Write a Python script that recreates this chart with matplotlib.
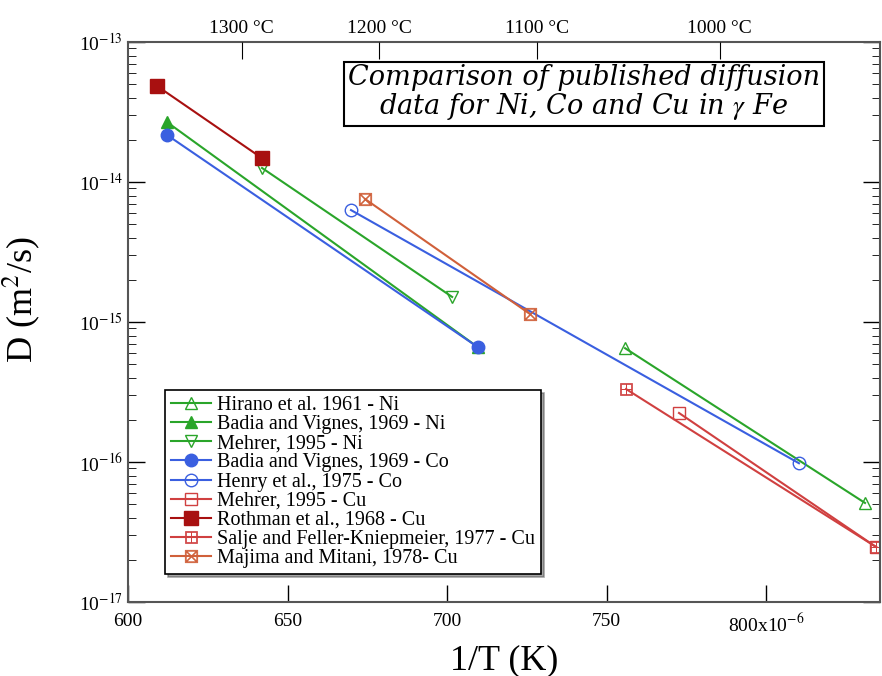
import numpy as np
import matplotlib
matplotlib.use('Agg')
import matplotlib.pyplot as plt

plt.rcParams['font.family'] = ['Liberation Serif', 'DejaVu Serif']
plt.rcParams['mathtext.fontset'] = 'stix'

# 1/T values in units of 1e-6 1/K, D in m^2/s
hirano_ni_x = [755.8, 831.0]
hirano_ni_y = [6.5e-16, 5.1e-17]
badia_ni_x = [612.2, 709.7]
badia_ni_y = [2.68e-14, 6.6e-16]
mehrer_ni_x = [642.0, 701.6]
mehrer_ni_y = [1.26e-14, 1.51e-15]
badia_co_x = [612.2, 709.7]
badia_co_y = [2.17e-14, 6.6e-16]
henry_co_x = [669.9, 810.3]
henry_co_y = [6.3e-15, 9.8e-17]
mehrer_cu_x = [772.7, 834.5]
mehrer_cu_y = [2.24e-16, 2.47e-17]
rothman_cu_x = [609.1, 642.0]
rothman_cu_y = [4.85e-14, 1.48e-14]
salje_cu_x = [756.1, 834.5]
salje_cu_y = [3.32e-16, 2.47e-17]
majima_cu_x = [674.3, 726.0]
majima_cu_y = [7.56e-15, 1.14e-15]

x_ticks = [600, 650, 700, 750, 800]
x_tick_labels = ['600', '650', '700', '750', '800x10$^{-6}$']
celsius_ticks = [1300, 1200, 1100, 1000]

green = '#2aa52a'
blue = '#3a5fe0'
darkred = '#a81010'
red = '#d04040'
orange = '#d0603a'

fig = plt.figure(figsize=(8.82, 6.76), dpi=100)
ax = fig.add_axes([128 / 882, 74 / 676, 752 / 882, 560 / 676])

ax.plot(hirano_ni_x, hirano_ni_y, color=green, marker='^', mfc='none', ms=9,
        lw=1.5, label='Hirano et al. 1961 - Ni')
ax.plot(badia_ni_x, badia_ni_y, color=green, marker='^', ms=9,
        lw=1.5, label='Badia and Vignes, 1969 - Ni')
ax.plot(mehrer_ni_x, mehrer_ni_y, color=green, marker='v', mfc='none', ms=9,
        lw=1.5, label='Mehrer, 1995 - Ni')
ax.plot(badia_co_x, badia_co_y, color=blue, marker='o', ms=9,
        lw=1.5, label='Badia and Vignes, 1969 - Co')
ax.plot(henry_co_x, henry_co_y, color=blue, marker='o', mfc='none', ms=9,
        lw=1.5, label='Henry et al., 1975 - Co')
ax.plot(mehrer_cu_x, mehrer_cu_y, color=red, marker='s', mfc='none', ms=9,
        lw=1.5, label='Mehrer, 1995 - Cu')
ax.plot(rothman_cu_x, rothman_cu_y, color=darkred, marker='s', ms=10,
        lw=1.5, label='Rothman et al., 1968 - Cu')
ax.plot(salje_cu_x, salje_cu_y, color=red, marker='$\u229e$', ms=9,
        mew=0.5, lw=1.5, label='Salje and Feller-Kniepmeier, 1977 - Cu')
ax.plot(majima_cu_x, majima_cu_y, color=orange, marker='$\u22a0$', ms=9,
        mew=0.5, lw=1.5, label='Majima and Mitani, 1978- Cu')

ax.set_yscale('log')
ax.set_xlim(600, 835.7)
ax.set_ylim(1e-17, 1e-13)
ax.set_xticks(x_ticks)
ax.set_xticklabels(x_tick_labels)
ax.set_yticks([1e-17, 1e-16, 1e-15, 1e-14, 1e-13])
ax.set_yticklabels(['10$^{-17}$', '10$^{-16}$', '10$^{-15}$', '10$^{-14}$', '10$^{-13}$'])
ax.tick_params(axis='both', which='major', direction='in', length=12, width=1,
               labelsize=14, right=True)
ax.tick_params(axis='y', which='minor', direction='in', length=6, right=True)
ax.tick_params(axis='x', pad=8)
for s in ax.spines.values():
    s.set_linewidth(1.5)
    s.set_color('#555555')

# top axis in degrees Celsius
top = ax.twiny()
top.set_xlim(ax.get_xlim())
top.set_xticks([1e6 / (c + 273.15) for c in celsius_ticks])
top.set_xticklabels([f'{c} \u00b0C' for c in celsius_ticks])
top.tick_params(axis='x', direction='in', length=12, labelsize=14)
for s in top.spines.values():
    s.set_visible(False)

ax.set_xlabel('1/T (K)', fontsize=26, labelpad=6)
ax.set_ylabel('D (m$^2$/s)', fontsize=26, labelpad=8)
ax.yaxis.set_label_coords(-0.115, 0.54)

ax.text(0.606, 0.909, 'Comparison of published diffusion\ndata for Ni, Co and Cu in $\\gamma$ Fe',
        transform=ax.transAxes, ha='center', va='center', fontsize=19.5,
        family='DejaVu Serif', style='italic', linespacing=1.0,
        bbox=dict(boxstyle='square,pad=0.15', fc='white', ec='black', lw=1.5))

leg = ax.legend(loc='lower left', bbox_to_anchor=(0.049, 0.05), fontsize=14.5,
                frameon=True, fancybox=False, shadow=True, handlelength=2.0,
                labelspacing=0.0, borderpad=0.3, handletextpad=0.3,
                borderaxespad=0)
leg.get_frame().set_edgecolor('black')
leg.get_frame().set_linewidth(1.2)

fig.savefig('out.png', dpi=100)
